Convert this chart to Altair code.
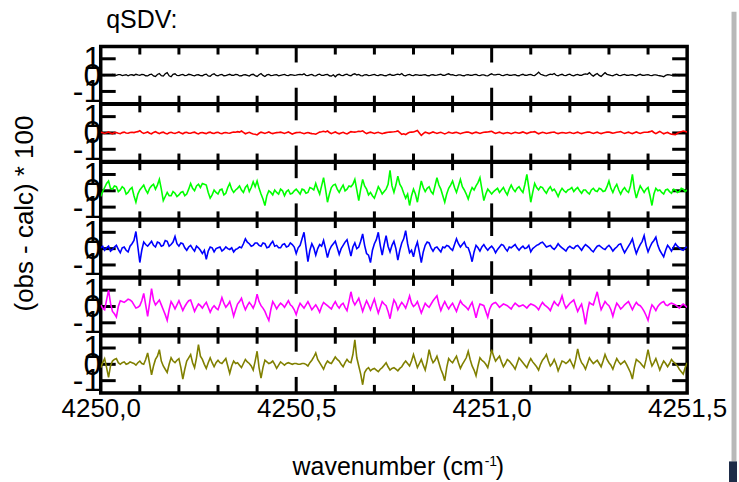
import altair as alt
import pandas as pd

# Wavenumber grid (cm^-1) shared by all residual traces
wavenumber = [round(4250.0 + 0.005 * i, 3) for i in range(301)]

# Residuals (obs - calc) * 100, one trace per fitted profile
res_black = [
    0.02, -0.01, -0.03, 0.02, 0.01, -0.02, 0.04, 0.00, -0.02, 0.03, 0.03, -0.03, 0.00, 0.02, -0.04, 0.01, 0.02, -0.02, 0.05, 0.01,
    -0.02, 0.04, 0.03, -0.04, -0.05, 0.03, 0.06, -0.05, -0.08, 0.04, 0.10, -0.03, -0.06, 0.08, 0.15, -0.04, -0.10, 0.05, 0.08, -0.02,
    -0.03, 0.02, 0.04, -0.03, -0.02, 0.05, 0.03, -0.02, -0.05, 0.01, 0.02, -0.03, -0.04, 0.03, 0.06, -0.05, -0.07, 0.04, 0.08, -0.02,
    -0.05, 0.02, 0.04, -0.04, -0.03, 0.02, 0.05, -0.01, -0.02, 0.04, 0.03, -0.05, -0.04, 0.01, 0.02, -0.02, -0.06, 0.03, 0.05, -0.03,
    -0.08, 0.02, 0.10, -0.02, -0.09, 0.01, 0.04, -0.03, -0.02, 0.02, 0.03, -0.04, -0.01, 0.02, 0.04, -0.01, -0.03, 0.03, 0.02, -0.02,
    0.00, 0.03, 0.05, 0.02, 0.08, -0.01, -0.03, 0.02, 0.04, -0.03, -0.05, 0.03, 0.06, -0.02, -0.02, 0.03, 0.04, -0.04, -0.06, 0.02,
    -0.10, 0.01, 0.05, -0.02, -0.03, 0.03, 0.06, -0.02, -0.04, 0.04, 0.08, 0.01, 0.04, -0.03, -0.05, 0.02, 0.03, -0.03, -0.02, 0.02,
    0.04, -0.02, -0.03, 0.03, 0.02, -0.03, -0.04, 0.02, 0.05, -0.01, -0.02, 0.03, 0.06, 0.02, 0.10, -0.02, -0.05, 0.02, 0.04, -0.02,
    -0.03, 0.03, 0.02, -0.02, -0.01, 0.02, 0.03, -0.03, -0.04, 0.01, 0.02, -0.02, 0.00, 0.03, 0.05, -0.01, -0.02, 0.04, 0.08, 0.02,
    0.03, -0.02, -0.03, 0.02, 0.02, -0.03, -0.04, 0.02, 0.03, -0.01, -0.02, 0.03, 0.04, -0.02, -0.03, 0.02, 0.02, -0.03, -0.05, 0.03,
    0.08, 0.01, 0.02, 0.04, 0.05, -0.02, -0.03, 0.02, 0.04, -0.01, -0.02, 0.02, 0.03, -0.03, -0.04, 0.02, 0.05, -0.01, -0.02, 0.03,
    0.04, -0.02, -0.03, 0.06, 0.18, 0.05, 0.02, -0.03, -0.05, 0.02, 0.06, 0.03, 0.10, -0.01, -0.04, 0.02, 0.05, -0.02, -0.03, 0.03,
    0.06, -0.02, -0.05, 0.01, 0.04, -0.01, -0.02, 0.04, 0.08, 0.05, 0.15, 0.02, -0.06, 0.03, 0.10, -0.02, -0.08, 0.04, 0.15, 0.05,
    0.02, -0.02, -0.05, 0.02, 0.06, -0.01, -0.03, 0.02, 0.04, -0.01, -0.02, 0.02, 0.03, -0.02, -0.04, 0.01, 0.05, -0.01, -0.02, 0.02,
    0.03, -0.01, -0.03, 0.02, 0.02, -0.02, -0.04, -0.06, -0.10, -0.02, 0.03, 0.01, -0.02, 0.02, 0.04, -0.01, -0.03, 0.01, 0.02, 0.00, 0.01,
]
res_red = [
    0.05, 0.01, -0.03, 0.02, 0.06, -0.01, -0.05, 0.02, 0.03, -0.02, -0.04, 0.02, 0.05, 0.00, -0.02, 0.03, 0.04, 0.02, 0.06, 0.08,
    0.14, 0.03, -0.03, 0.02, 0.06, -0.02, -0.05, 0.03, 0.08, 0.01, -0.04, 0.02, 0.05, -0.02, -0.06, 0.01, 0.04, 0.00, -0.03, 0.02,
    0.06, -0.01, -0.05, 0.02, 0.04, -0.02, -0.02, 0.03, 0.05, -0.02, -0.06, 0.01, 0.03, -0.01, -0.04, 0.02, 0.05, -0.01, -0.03, 0.02,
    0.04, -0.02, -0.05, 0.01, 0.03, 0.00, -0.02, 0.03, 0.06, 0.04, 0.08, 0.05, 0.12, 0.03, -0.05, 0.00, 0.04, -0.02, -0.06, -0.08,
    -0.12, -0.02, 0.05, 0.01, -0.03, 0.02, 0.06, 0.00, -0.04, 0.00, 0.02, 0.03, 0.05, 0.01, -0.03, 0.02, 0.06, 0.00, -0.07, -0.02,
    0.02, 0.03, 0.04, -0.01, -0.05, 0.00, 0.03, -0.01, -0.04, -0.05, -0.08, -0.01, 0.05, 0.07, 0.10, 0.06, 0.12, 0.03, -0.04, 0.02,
    0.06, 0.00, -0.05, 0.00, 0.04, -0.02, -0.06, 0.01, 0.08, 0.06, 0.05, 0.07, 0.10, 0.09, 0.13, 0.03, -0.04, 0.01, 0.05, 0.01,
    -0.03, 0.01, 0.04, -0.01, -0.05, -0.01, 0.02, 0.04, 0.05, 0.06, 0.07, 0.09, 0.12, 0.02, -0.08, -0.05, -0.10, -0.02, 0.04, 0.05,
    0.06, 0.10, 0.15, 0.00, -0.15, -0.04, 0.05, 0.01, -0.04, 0.01, 0.06, 0.02, -0.03, 0.01, 0.04, -0.01, -0.06, -0.01, 0.05, 0.01,
    -0.02, 0.02, 0.04, 0.00, -0.05, -0.01, 0.03, 0.05, 0.06, 0.01, -0.04, 0.01, 0.05, 0.01, -0.03, 0.01, 0.04, 0.05, 0.06, 0.08,
    0.10, 0.03, -0.03, 0.01, 0.05, 0.00, -0.04, 0.00, 0.03, -0.01, -0.05, 0.00, 0.04, 0.01, -0.02, 0.02, 0.06, 0.01, -0.04, 0.01,
    0.05, 0.06, 0.08, 0.01, -0.05, 0.00, 0.04, 0.01, -0.03, 0.00, 0.02, 0.04, 0.05, 0.00, -0.04, 0.00, 0.03, 0.01, -0.02, 0.01,
    0.04, 0.00, -0.03, 0.01, 0.05, 0.00, -0.04, 0.00, 0.03, 0.05, 0.06, 0.01, -0.03, 0.01, 0.05, 0.00, -0.04, 0.00, 0.03, 0.05,
    0.06, 0.02, -0.02, 0.01, 0.04, 0.06, 0.08, 0.02, -0.03, 0.01, 0.05, 0.00, -0.04, 0.01, 0.06, 0.01, -0.03, 0.01, 0.04, 0.04,
    0.05, 0.08, 0.12, 0.03, -0.04, 0.03, 0.10, 0.02, -0.05, 0.00, 0.03, -0.03, -0.08, -0.09, -0.10, -0.02, 0.04, 0.08, 0.12, 0.09, 0.06,
]
res_green = [
    -0.35, -0.05, 0.20, 0.45, 0.60, 0.15, 0.10, 0.30, 0.25, -0.05, 0.05, 0.25, 0.15, -0.20, -0.10, 0.10, 0.20, -0.30, -0.70, -0.20,
    0.05, 0.20, 0.35, 0.05, -0.15, 0.15, 0.30, 0.40, 0.10, 0.35, 0.70, 0.10, -0.60, -0.35, -0.10, -0.30, -0.30, -0.05, -0.15, -0.35,
    -0.25, -0.10, -0.05, -0.30, -0.20, 0.10, 0.45, 0.15, 0.00, 0.30, 0.40, 0.20, 0.45, 0.40, 0.35, -0.10, -0.45, -0.25, 0.05, -0.10,
    -0.20, 0.05, 0.10, -0.25, -0.15, 0.20, 0.45, 0.10, -0.10, 0.05, 0.15, 0.30, 0.05, -0.10, 0.20, 0.35, -0.05, 0.20, 0.55, 0.25,
    0.60, 0.15, -0.20, -0.50, -0.90, -0.30, 0.00, -0.10, -0.25, 0.05, -0.10, -0.20, 0.10, 0.00, -0.30, -0.05, 0.05, -0.20, -0.15, 0.00,
    0.10, -0.05, -0.20, 0.10, 0.05, -0.15, -0.10, 0.20, 0.15, 0.05, 0.45, 0.10, -0.20, 0.30, 0.80, 0.10, -0.70, -0.20, 0.20, 0.35,
    0.40, 0.10, -0.10, 0.15, 0.35, 0.00, 0.10, 0.30, 0.25, 0.40, 0.70, 0.05, -0.60, 0.10, 0.70, 0.30, 0.10, -0.25, -0.10, -0.30,
    -0.45, -0.10, 0.25, 0.05, -0.20, -0.05, 0.10, 0.40, 1.25, 0.30, -0.10, 0.35, 0.90, 0.40, 0.20, -0.15, -0.45, -0.20, -0.90, -0.30,
    0.10, -0.20, -0.70, 0.00, 0.60, 0.20, -0.05, 0.15, 0.25, -0.05, -0.20, 0.30, 0.80, 0.35, 0.10, -0.30, -0.70, -0.20, 0.15, 0.35,
    0.60, 0.20, -0.10, 0.30, 0.70, 0.25, 0.05, -0.20, -0.50, -0.10, 0.20, 0.05, 0.30, 0.50, 0.80, 0.10, -0.60, -0.20, 0.10, -0.05,
    -0.20, -0.05, 0.05, 0.15, -0.10, 0.05, 0.20, -0.05, -0.25, 0.10, 0.35, 0.10, -0.05, 0.15, 0.25, 0.05, -0.10, 0.40, 1.00, 0.20,
    -0.70, -0.10, 0.45, 0.20, 0.05, 0.25, 0.20, 0.00, -0.15, 0.10, 0.25, 0.00, 0.10, -0.10, -0.35, -0.05, 0.15, 0.00, -0.10, 0.05,
    0.10, 0.20, -0.05, 0.10, 0.20, 0.00, -0.15, 0.05, 0.05, -0.10, -0.20, 0.05, 0.15, 0.00, -0.05, 0.15, 0.10, -0.05, 0.00, 0.25,
    0.60, 0.15, -0.10, 0.20, 0.40, 0.05, -0.20, 0.05, 0.20, 0.00, -0.10, 0.30, 1.00, 0.10, -0.45, -0.05, 0.30, 0.10, -0.10, 0.10,
    0.20, -0.30, -0.90, -0.20, 0.15, 0.00, 0.05, -0.10, -0.20, 0.05, 0.10, -0.05, -0.15, 0.10, 0.05, -0.10, -0.05, 0.15, 0.10, -0.05, 0.05,
]
res_blue = [
    0.05, 0.15, -0.10, 0.05, 0.15, -0.15, -0.05, 0.10, 0.20, -0.05, -0.25, 0.05, 0.10, -0.10, -0.20, 0.15, 0.30, 0.50, 1.05, 0.10,
    -0.85, -0.10, 0.40, 0.25, 0.15, 0.30, 0.45, 0.20, 0.10, 0.40, 0.35, 0.15, 0.20, 0.50, 0.45, 0.15, 0.25, 0.40, 0.75, 0.30,
    0.15, 0.35, 0.30, 0.05, -0.10, 0.10, 0.20, 0.00, -0.15, 0.15, 0.05, -0.10, -0.30, -0.10, -0.65, -0.15, 0.10, 0.05, -0.20, 0.00,
    0.05, 0.10, -0.15, -0.05, 0.10, 0.00, -0.05, 0.05, -0.20, -0.05, 0.00, 0.10, 0.05, 0.30, 0.60, 0.40, 0.30, 0.15, 0.20, 0.35,
    0.35, 0.20, 0.15, 0.35, 0.30, 0.05, 0.10, 0.30, 0.45, 0.15, 0.20, 0.05, 0.05, 0.25, 0.30, 0.10, 0.15, 0.35, 0.25, 0.10,
    -0.30, 0.05, 0.20, 0.60, 1.00, 0.10, -0.80, -0.10, 0.30, 0.05, -0.40, 0.00, 0.25, 0.15, 0.50, 0.00, -0.55, -0.10, 0.15, 0.30,
    0.45, 0.05, -0.35, 0.00, 0.20, 0.40, 0.55, 0.05, -0.45, 0.10, 0.35, 0.00, 0.10, 0.45, 0.90, 0.20, -0.30, -0.40, -0.85, -0.10,
    0.30, 0.55, 1.00, 0.20, -0.40, 0.25, 0.80, 0.15, -0.20, 0.20, 0.45, 0.00, -0.70, -0.10, 0.35, 0.60, 1.10, 0.30, -0.25, -0.10,
    -0.50, 0.05, 0.40, -0.20, -0.85, -0.20, 0.20, 0.40, 0.35, 0.05, -0.15, 0.05, 0.10, -0.05, -0.20, 0.10, 0.05, 0.20, 0.15, 0.00,
    -0.10, 0.25, 0.60, 0.30, 0.10, 0.25, 0.40, 0.10, 0.05, -0.30, -0.80, -0.20, 0.20, 0.05, -0.15, 0.10, 0.25, 0.05, -0.10, 0.05,
    0.15, 0.00, -0.25, -0.05, 0.10, 0.25, 0.20, 0.00, -0.15, 0.10, 0.05, 0.15, 0.25, 0.05, -0.10, 0.05, 0.15, 0.00, 0.05, 0.20,
    -0.20, 0.00, 0.10, 0.20, 0.25, 0.35, 0.40, 0.25, 0.10, 0.15, 0.20, 0.05, -0.05, 0.10, 0.30, 0.15, 0.05, -0.05, -0.15, 0.05,
    0.15, 0.05, 0.00, 0.15, 0.20, 0.05, -0.10, 0.10, 0.25, 0.15, 0.05, -0.10, -0.20, 0.00, 0.15, 0.20, 0.10, 0.00, -0.05, 0.10,
    0.20, 0.05, -0.15, 0.00, 0.10, 0.25, 0.30, 0.00, -0.25, -0.05, 0.15, 0.35, 0.60, 0.10, -0.30, 0.00, 0.25, 0.45, 0.80, 0.20,
    -0.20, 0.10, 0.35, 0.50, 0.70, 0.20, -0.10, -0.30, -0.50, -0.10, 0.20, 0.05, -0.15, 0.10, 0.30, 0.15, 0.05, -0.05, -0.10, 0.05, 0.10,
]
res_magenta = [
    0.10, -0.10, -0.20, 0.40, 1.00, 0.20, -0.30, -0.45, -0.65, 0.00, 0.35, 0.30, 0.25, 0.35, 0.45, 0.40, 0.30, 0.10, -0.10, -0.05,
    0.05, 0.35, 0.80, 0.10, -0.60, 0.20, 1.10, 0.40, 0.10, 0.25, 0.40, 0.10, -0.20, -0.50, -0.85, -0.20, 0.30, 0.10, -0.15, 0.10,
    0.35, 0.05, -0.25, 0.00, 0.20, 0.35, 0.40, 0.05, -0.30, -0.05, 0.15, 0.05, -0.10, 0.10, 0.25, -0.05, -0.35, -0.10, 0.05, -0.10,
    -0.20, 0.15, 0.55, 0.20, -0.05, 0.10, 0.30, -0.10, -0.60, -0.20, 0.15, 0.30, 0.50, 0.10, -0.20, 0.05, 0.25, 0.10, -0.10, 0.20,
    0.75, 0.30, 0.05, -0.10, -0.30, -0.60, -0.85, -0.20, 0.30, 0.10, -0.15, 0.05, 0.20, 0.10, -0.05, 0.15, 0.35, 0.10, 0.00, -0.20,
    -0.50, -0.10, 0.20, 0.05, -0.10, 0.10, 0.30, 0.05, -0.20, -0.05, 0.10, -0.10, -0.35, 0.00, 0.25, 0.15, 0.05, -0.05, -0.15, 0.10,
    0.30, 0.05, -0.10, 0.10, 0.20, -0.05, -0.25, 0.30, 0.90, 0.35, 0.10, 0.30, 0.50, 0.10, -0.30, 0.05, 0.35, 0.10, -0.20, 0.15,
    0.45, 0.00, -0.40, -0.05, 0.30, 0.15, 0.05, -0.30, -0.75, -0.10, 0.40, 0.20, -0.20, 0.05, 0.25, 0.10, -0.10, 0.25, 0.65, 0.20,
    0.00, 0.10, 0.30, -0.05, -0.40, -0.10, 0.20, 0.05, -0.05, 0.15, 0.35, 0.50, 0.65, 0.15, -0.25, 0.05, 0.30, 0.05, -0.15, 0.05,
    0.20, -0.05, -0.30, 0.05, 0.35, 0.15, 0.05, -0.05, -0.20, 0.05, 0.25, -0.20, -0.70, -0.20, 0.15, 0.10, 0.05, -0.30, -0.65, -0.15,
    0.10, 0.20, 0.25, 0.10, -0.05, 0.05, 0.15, 0.10, 0.05, -0.05, -0.15, 0.05, 0.20, 0.10, 0.00, 0.05, 0.10, 0.00, -0.10, 0.05,
    0.15, 0.10, 0.05, -0.05, -0.20, 0.05, 0.25, 0.10, 0.00, -0.10, -0.25, 0.05, 0.30, 0.15, 0.05, 0.30, 0.65, 0.20, -0.10, 0.05,
    0.20, 0.30, 0.40, 0.05, -0.30, -0.05, 0.15, -0.40, -1.10, -0.30, 0.25, 0.15, 0.10, 0.50, 0.90, 0.30, -0.20, 0.05, 0.30, 0.15,
    0.05, -0.20, -0.60, -0.15, 0.20, 0.05, -0.15, -0.05, 0.10, 0.20, 0.30, 0.05, -0.20, 0.05, 0.25, 0.10, 0.05, -0.10, -0.30, -0.55,
    -0.85, -0.30, 0.10, -0.05, -0.25, 0.00, 0.15, 0.25, 0.30, 0.10, 0.05, 0.15, 0.20, 0.15, 0.10, 0.00, -0.10, 0.05, 0.15, 0.05, -0.05,
]
res_olive = [
    -0.20, 0.10, 0.35, -0.20, -0.80, -0.10, 0.20, 0.30, 0.35, 0.10, 0.00, 0.10, 0.15, 0.00, 0.05, 0.15, 0.10, 0.05, -0.05, 0.10,
    0.20, 0.05, 0.00, 0.30, 0.70, 0.05, -0.65, -0.10, 0.30, 0.50, 0.90, 0.20, -0.10, -0.30, -0.50, 0.00, 0.40, 0.20, 0.10, 0.25,
    0.35, -0.20, -0.90, -0.30, 0.20, 0.40, 0.60, 0.10, -0.20, 0.40, 1.20, 0.50, 0.30, 0.00, -0.25, 0.10, 0.40, 0.10, -0.15, 0.10,
    0.25, 0.10, 0.05, 0.20, 0.35, -0.10, -0.55, -0.10, 0.20, 0.05, 0.10, -0.05, -0.20, 0.05, 0.30, 0.15, 0.05, -0.10, -0.35, 0.20,
    0.80, -0.20, -0.85, -0.20, 0.25, 0.15, 0.05, 0.10, 0.20, 0.00, -0.25, -0.05, 0.15, 0.05, -0.05, 0.05, 0.10, 0.05, 0.00, 0.05,
    0.05, 0.00, 0.00, 0.05, 0.05, 0.00, -0.10, 0.10, 0.25, 0.45, 0.70, 0.30, 0.10, -0.10, -0.30, 0.00, 0.20, 0.10, 0.05, 0.25,
    0.45, 0.30, 0.20, 0.00, -0.15, 0.10, 0.30, 0.15, 0.10, 0.60, 1.50, 0.40, -0.10, -0.60, -1.25, -0.50, -0.30, -0.20, -0.40, -0.30,
    -0.25, -0.35, -0.45, -0.30, -0.20, -0.05, 0.10, -0.15, -0.35, -0.25, -0.20, -0.30, -0.40, -0.25, -0.15, 0.05, 0.20, 0.05, -0.10, 0.20,
    0.60, 0.20, -0.20, 0.05, 0.30, -0.05, -0.35, 0.20, 0.90, 0.40, 0.10, 0.25, 0.50, 0.10, -0.30, -0.60, -1.00, -0.20, 0.35, 0.20,
    0.10, 0.30, 0.50, 0.10, -0.25, 0.00, 0.20, 0.40, 0.80, 0.30, -0.10, -0.35, -0.70, -0.10, 0.40, 0.25, 0.15, 0.00, -0.20, 0.30,
    0.90, 0.50, 0.20, 0.35, 0.50, 0.15, -0.15, 0.05, 0.30, 0.20, 0.05, -0.10, -0.30, 0.05, 0.40, 0.25, 0.10, -0.05, -0.20, 0.10,
    0.35, 0.15, 0.00, -0.15, -0.35, 0.00, 0.25, 0.40, 0.60, 0.20, -0.10, 0.05, 0.30, 0.00, -0.40, -0.10, 0.20, 0.15, 0.05, 0.15,
    0.30, 0.05, -0.20, 0.30, 0.95, 0.40, 0.10, -0.05, -0.30, 0.05, 0.40, 0.20, 0.05, 0.15, 0.25, 0.05, -0.15, 0.20, 0.60, 0.30,
    0.10, -0.05, -0.30, 0.05, 0.35, 0.15, 0.00, 0.10, 0.20, 0.00, -0.25, -0.50, -0.90, -0.20, 0.30, 0.20, 0.10, -0.05, -0.20, 0.30,
    0.90, 0.30, -0.10, 0.10, 0.35, 0.00, -0.35, -0.05, 0.20, 0.05, -0.15, 0.05, 0.30, 0.15, 0.05, -0.10, -0.30, -0.45, -0.60, -0.20, 0.10,
]

series = [
    (res_black, "#000000", 1.3),
    (res_red, "#ff0000", 1.6),
    (res_green, "#00ff00", 1.6),
    (res_blue, "#0000ff", 1.6),
    (res_magenta, "#ff00ff", 1.6),
    (res_olive, "#808000", 1.6),
]

# Axis ticks
minor_ticks = [4250.1, 4250.2, 4250.3, 4250.4, 4250.6, 4250.7, 4250.8, 4250.9,
               4251.1, 4251.2, 4251.3, 4251.4]
major_ticks = [4250.5, 4251.0]
x_labels = [4250.0, 4250.5, 4251.0, 4251.5]
y_ticks = [1, 0, -1]

FONT = "Liberation Sans"
W, H = 588, 57.3
MINOR_LEN, MAJOR_LEN, Y_TICK_LEN = 8, 16, 15

x_scale = alt.Scale(domain=[4250.0, 4251.5], nice=False, zero=False)
y_scale = alt.Scale(domain=[-1.75, 1.75], nice=False, zero=False)

minor_df = pd.DataFrame({"wn": minor_ticks})
major_df = pd.DataFrame({"wn": major_ticks})
ytick_df = pd.DataFrame({"r": y_ticks})


def panel(idx, values, color, width):
    df = pd.DataFrame({"wn": wavenumber, "r": values})
    is_bottom = idx == len(series) - 1

    y_axis_kw = dict(values=y_ticks, labelExpr="datum.value + ''", ticks=False,
                     domain=False, grid=False, labelFontSize=32, labelPadding=0,
                     labelColor="black", labelFont=FONT, labelBaseline="middle",
                     labelOverlap=False, labelBound=False, title=None)
    if idx == 3:
        y_axis_kw.update(title="(obs - calc) * 100", titleFontSize=26,
                         titleFont=FONT, titleFontWeight="normal",
                         titleColor="black", titleX=-63, titleY=-7)
    y_axis = alt.Axis(**y_axis_kw)

    if is_bottom:
        x_axis = alt.Axis(values=x_labels,
                          labelExpr="replace(format(datum.value, '.1f'), '.', ',')",
                          ticks=False, domain=False, grid=False, labelFontSize=26,
                          labelFont=FONT, labelColor="black", labelFlush=False,
                          labelOverlap=False, labelPadding=3, title=None)
    else:
        x_axis = None

    X = alt.X("wn:Q", scale=x_scale, axis=x_axis)
    Y = alt.Y("r:Q", scale=y_scale, axis=y_axis)

    layers = []
    # y ticks on both sides, pointing inward
    yt = alt.Chart(ytick_df).mark_rule(color="black", strokeWidth=3)
    layers.append(yt.encode(y=Y, x=alt.value(0), x2=alt.value(Y_TICK_LEN)))
    layers.append(yt.encode(y=Y, x=alt.value(W - Y_TICK_LEN), x2=alt.value(W)))
    # x ticks at top and bottom of each panel, pointing inward
    for df_t, length in ((minor_df, MINOR_LEN), (major_df, MAJOR_LEN)):
        xt = alt.Chart(df_t).mark_rule(color="black", strokeWidth=3)
        layers.append(xt.encode(x=X, y=alt.value(0), y2=alt.value(length)))
        layers.append(xt.encode(x=X, y=alt.value(H - length), y2=alt.value(H)))

    layers.append(
        alt.Chart(df).mark_line(color=color, strokeWidth=width, clip=True)
        .encode(x=X, y=Y)
    )

    if is_bottom:
        # x-axis title with a superscript exponent
        t_main = alt.Chart(pd.DataFrame({"t": ["wavenumber (cm"]})).mark_text(
            font=FONT, fontSize=25, align="right", baseline="alphabetic", color="black"
        ).encode(text="t:N", x=alt.value(384), y=alt.value(140))
        t_sup = alt.Chart(pd.DataFrame({"t": ["-1"]})).mark_text(
            font=FONT, fontSize=14, align="left", baseline="alphabetic", color="black"
        ).encode(text="t:N", x=alt.value(385), y=alt.value(131))
        t_close = alt.Chart(pd.DataFrame({"t": [")"]})).mark_text(
            font=FONT, fontSize=25, align="left", baseline="alphabetic", color="black"
        ).encode(text="t:N", x=alt.value(396), y=alt.value(140))
        # window frame strip along the right edge
        edge = alt.Chart(pd.DataFrame({"t": [0]})).mark_rule(
            color="#b8b8b8", strokeWidth=5
        ).encode(x=alt.value(W + 47), y=alt.value(-325), y2=alt.value(126))
        corner = alt.Chart(pd.DataFrame({"t": [0]})).mark_rect(
            color="#1e2c48"
        ).encode(x=alt.value(W + 42), x2=alt.value(W + 50),
                 y=alt.value(126), y2=alt.value(150))
        layers += [t_main, t_sup, t_close, edge, corner]

    props = dict(width=W, height=H)
    if idx == 0:
        props["title"] = alt.TitleParams("qSDV:", anchor="start", fontSize=25,
                                         font=FONT, fontWeight="normal",
                                         color="black", dx=34, offset=10)
    return alt.layer(*layers).properties(**props)


panels = [panel(i, v, c, w) for i, (v, c, w) in enumerate(series)]

chart = alt.vconcat(*panels, spacing=0, bounds="flush").properties(
    padding={"left": 10, "top": 5, "right": 0, "bottom": 0},
    background="white",
).configure(
    font=FONT
).configure_view(
    stroke="black", strokeWidth=3.5
)

chart.save("out.html", embed_options={"renderer": "svg", "actions": False})
